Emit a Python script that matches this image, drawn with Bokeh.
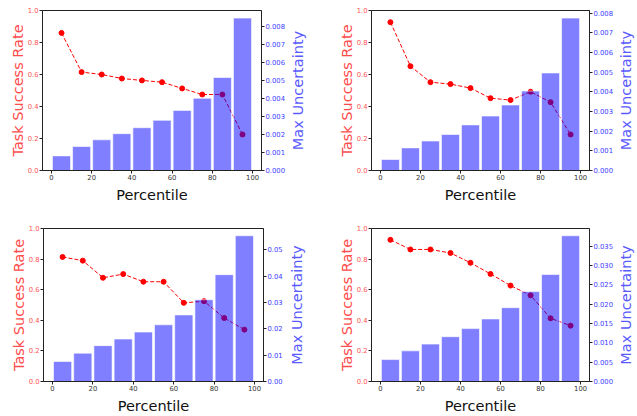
import math
from bokeh.plotting import figure
from bokeh.layouts import column, row
from bokeh.models import Range1d, LinearAxis, FixedTicker, PrintfTickFormatter
from bokeh.core.properties import value
from bokeh.embed import file_html
from bokeh.resources import INLINE

percentiles = [5, 15, 25, 35, 45, 55, 65, 75, 85, 95]

success_1 = [0.860, 0.615, 0.600, 0.575, 0.563, 0.552, 0.513, 0.475, 0.475, 0.225]
uncert_1 = [0.00081, 0.00133, 0.00170, 0.00204, 0.00237, 0.00278, 0.00333, 0.00400, 0.00515, 0.00844]
uticks_1 = [0.000, 0.001, 0.002, 0.003, 0.004, 0.005, 0.006, 0.007, 0.008]

success_2 = [0.927, 0.652, 0.552, 0.540, 0.515, 0.452, 0.440, 0.492, 0.427, 0.225]
uncert_2 = [0.00056, 0.00115, 0.00150, 0.00183, 0.00232, 0.00277, 0.00333, 0.00404, 0.00496, 0.00775]
uticks_2 = [0.000, 0.001, 0.002, 0.003, 0.004, 0.005, 0.006, 0.007, 0.008]

success_3 = [0.814, 0.790, 0.678, 0.702, 0.652, 0.652, 0.514, 0.525, 0.415, 0.339]
uncert_3 = [0.0076, 0.01075, 0.0136, 0.0161, 0.01875, 0.0215, 0.02525, 0.0310, 0.0405, 0.05525]
uticks_3 = [0.00, 0.01, 0.02, 0.03, 0.04, 0.05]

success_4 = [0.926, 0.863, 0.863, 0.840, 0.776, 0.703, 0.627, 0.563, 0.413, 0.365]
uncert_4 = [0.00567, 0.00792, 0.00967, 0.01158, 0.01367, 0.01617, 0.01908, 0.02325, 0.02767, 0.03767]
uticks_4 = [0.000, 0.005, 0.010, 0.015, 0.020, 0.025, 0.030, 0.035]

xticks = [0, 20, 40, 60, 80, 100]
lticks = [0.0, 0.2, 0.4, 0.6, 0.8, 1.0]
right_label = "Max Uncertainty"

FONT = "DejaVu Sans"


def style_axis(ax, color, label=None, label_color=None, standoff=0):
    ax.minor_tick_line_color = None
    ax.major_tick_in = 0
    ax.major_tick_out = 3
    ax.major_label_standoff = 1
    ax.major_label_text_font = FONT
    ax.major_label_text_font_size = "6.8px"
    ax.major_label_text_color = color
    ax.axis_line_color = "#222222"
    ax.major_tick_line_color = "#222222"
    if label:
        ax.axis_label = label
        ax.axis_label_text_font = FONT
        ax.axis_label_text_font_size = "14.5px"
        ax.axis_label_text_font_style = "normal"
        ax.axis_label_text_color = label_color
        ax.axis_label_standoff = standoff


def make(success, uncert, uticks, ufmt, w, h, bl, br, bt, bb):
    p = figure(width=w, height=h, output_backend="svg", toolbar_location=None,
               x_range=Range1d(-4.45, 104.45), y_range=Range1d(0, 1.0),
               min_border_left=bl, min_border_right=br, min_border_top=bt,
               min_border_bottom=bb)
    p.extra_y_ranges = {"u": Range1d(0, max(uncert) * 1.05)}
    p.xgrid.visible = False
    p.ygrid.visible = False
    p.outline_line_color = "#222222"
    p.outline_line_width = 1
    p.background_fill_color = "white"
    p.border_fill_color = "white"

    p.line(percentiles, success, line_color="red", line_dash="4 2", line_width=1)
    p.scatter(percentiles, success, size=5, fill_color="red", line_color="red")
    p.vbar(x=percentiles, width=9, top=uncert, bottom=0, y_range_name="u",
           fill_color="blue", fill_alpha=0.5, line_color="white", line_alpha=0.6,
           line_width=1)

    xa = p.xaxis[0]
    xa.ticker = FixedTicker(ticks=xticks)
    style_axis(xa, "#333333", "Percentile", "#111111", 4)

    ya = p.yaxis[0]
    ya.ticker = FixedTicker(ticks=lticks)
    ya.formatter = PrintfTickFormatter(format="%.1f")
    style_axis(ya, "#ff5555", "Task Success Rate", "#ff4d4d", -1)

    ra = LinearAxis(y_range_name="u", ticker=FixedTicker(ticks=uticks),
                    formatter=PrintfTickFormatter(format=ufmt))
    style_axis(ra, "#4040ff")
    p.add_layout(ra, "right")
    return p


def label_strip(w, h, bt, bb):
    s = figure(width=w, height=h, output_backend="svg", toolbar_location=None,
               x_range=Range1d(0, 1), y_range=Range1d(0, 1),
               min_border_left=0, min_border_right=0, min_border_top=bt,
               min_border_bottom=bb)
    s.axis.visible = False
    s.grid.visible = False
    s.outline_line_color = None
    s.border_fill_color = "white"
    s.background_fill_color = "white"
    s.text(x=[0.5], y=[0.5], text=[right_label], angle=math.pi / 2,
           text_font=value(FONT), text_font_size="14.5px", text_color="#5a5aff",
           text_align="center", text_baseline="middle")
    return s


f1 = make(success_1, uncert_1, uticks_1, "%.3f", 287, 206, 42, 25, 10, 36)
g1 = label_strip(20, 206, 10, 36)
f2 = make(success_2, uncert_2, uticks_2, "%.3f", 308, 206, 64, 25, 10, 36)
g2 = label_strip(20, 206, 10, 36)

f3 = make(success_3, uncert_3, uticks_3, "%.2f", 285, 210, 43, 21, 22, 34)
g3 = label_strip(23, 210, 22, 34)
f4 = make(success_4, uncert_4, uticks_4, "%.3f", 307, 210, 63, 25, 18, 34)
g4 = label_strip(20, 210, 18, 34)

layout = column(row(f1, g1, f2, g2), row(f3, g3, f4, g4))
open("out.html", "w").write(file_html(layout, INLINE))
